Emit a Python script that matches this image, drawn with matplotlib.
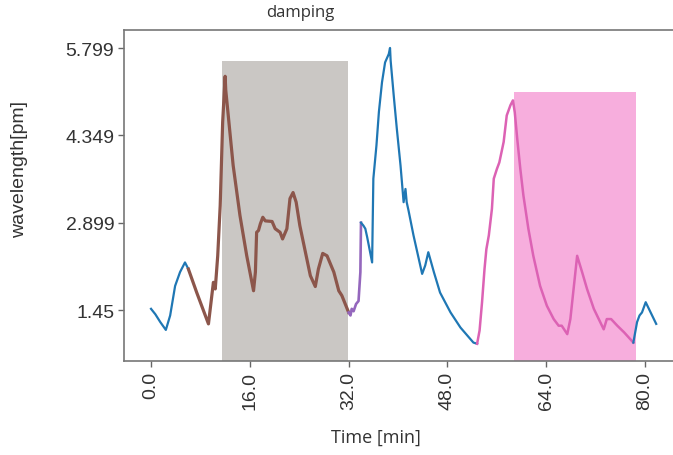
import numpy as np
import matplotlib.pyplot as plt
from matplotlib.patches import Rectangle

# line segments, time [min] and wavelength [pm] -----------------------------------
t_blue1 = [0.0, 0.7, 1.5, 2.4, 3.1, 3.9, 4.7, 5.5, 6.05]
v_blue1 = [1.47, 1.38, 1.25, 1.12, 1.36, 1.85, 2.08, 2.24, 2.13]

t_brown = [6.05, 7.4, 9.3, 10.1, 10.4, 10.8, 11.2, 11.6, 12.0, 12.1, 12.4, 13.3, 14.4,
           15.5, 16.6, 16.9, 17.1, 17.4, 17.7, 18.1, 18.5, 19.6, 20.1, 20.9, 21.3,
           22.0, 22.5, 23.0, 23.5, 24.1, 25.0, 25.8, 26.6, 27.1, 27.8, 28.5, 29.6,
           30.4, 30.9, 32.0]
v_brown = [2.13, 1.74, 1.22, 1.91, 1.80, 2.35, 3.18, 4.57, 5.33, 5.10, 4.79, 3.85, 3.02,
           2.35, 1.77, 2.08, 2.74, 2.77, 2.88, 2.99, 2.93, 2.92, 2.80, 2.74, 2.63,
           2.80, 3.30, 3.40, 3.24, 2.85, 2.41, 2.02, 1.84, 2.13, 2.39, 2.35, 2.08,
           1.77, 1.69, 1.41]

t_purple = [32.0, 32.3, 32.5, 32.8, 33.2, 33.6, 33.9, 34.0]
v_purple = [1.41, 1.36, 1.47, 1.43, 1.55, 1.60, 2.08, 2.90]

t_blue2 = [34.0, 34.4, 34.7, 35.0, 35.8, 36.0, 36.5, 36.9, 37.4, 37.9, 38.5, 38.7,
           38.8, 39.3, 39.8, 40.4, 40.9, 41.2, 41.4, 41.7, 42.5, 43.9, 44.4, 44.9,
           45.8, 46.8, 48.5, 50.1, 52.2, 52.8]
v_blue2 = [2.90, 2.85, 2.80, 2.66, 2.24, 3.63, 4.18, 4.74, 5.23, 5.56, 5.70, 5.80,
           5.59, 5.01, 4.46, 3.85, 3.24, 3.46, 3.24, 3.10, 2.69, 2.05, 2.19, 2.41,
           2.08, 1.74, 1.41, 1.16, 0.91, 0.89]

t_pink = [52.8, 53.2, 53.6, 54.0, 54.3, 54.7, 55.2, 55.5, 56.0, 56.4, 57.1, 57.6, 58.2,
          58.6, 58.9, 59.3, 59.8, 60.3, 61.1, 61.9, 63.0, 64.1, 65.2, 66.0, 66.5,
          67.4, 67.9, 69.0, 69.8, 70.6, 71.7, 73.3, 73.8, 74.5, 75.5, 76.6, 78.1]
v_pink = [0.89, 1.11, 1.58, 2.13, 2.46, 2.69, 3.13, 3.63, 3.79, 3.90, 4.24, 4.68, 4.85,
          4.93, 4.73, 4.29, 3.79, 3.35, 2.80, 2.35, 1.85, 1.52, 1.30, 1.19, 1.19,
          1.05, 1.30, 2.35, 2.08, 1.80, 1.47, 1.13, 1.30, 1.30, 1.19, 1.08, 0.91]

t_blue3 = [78.1, 78.7, 79.1, 79.5, 80.1, 80.9, 81.8]
v_blue3 = [0.91, 1.25, 1.36, 1.41, 1.58, 1.41, 1.22]

# shaded intervals: (start, end, top)
gray_span = (11.5, 31.9, 5.59)
pink_span = (58.8, 78.6, 5.07)

xticks = [0, 16, 32, 48, 64, 80]
xtick_labels = ["0.0", "16.0", "32.0", "48.0", "64.0", "80.0"]
yticks = [1.45, 2.899, 4.349, 5.799]
ytick_labels = ["1.45", "2.899", "4.349", "5.799"]

# Plotting ----------------------------------------------------------------
fig = plt.figure(figsize=(6.73, 4.56), dpi=100)
ax = fig.add_axes([0.1843, 0.206, 1.02 - 0.1843, 0.726])
ax.set_xlim(-4.37, 86.7)
ax.set_ylim(0.603, 6.098)

ymin = ax.get_ylim()[0]
ax.add_patch(Rectangle((gray_span[0], ymin), gray_span[1] - gray_span[0], gray_span[2] - ymin,
                       color='#cac7c4', lw=0, zorder=1))
ax.add_patch(Rectangle((pink_span[0], ymin), pink_span[1] - pink_span[0], pink_span[2] - ymin,
                       color='#f7aedd', lw=0, zorder=1))

lw = 1.6
ax.plot(t_blue1, v_blue1, color='#1f77b4', lw=lw, zorder=3)
ax.plot(t_brown, v_brown, color='#8c564b', lw=lw + 0.7, zorder=3)
ax.plot(t_purple, v_purple, color='#9467bd', lw=lw + 0.3, zorder=3)
ax.plot(t_blue2, v_blue2, color='#1f77b4', lw=lw, zorder=3)
ax.plot(t_pink, v_pink, color='#dc62b4', lw=lw + 0.2, zorder=3)
ax.plot(t_blue3, v_blue3, color='#1f77b4', lw=lw, zorder=3)

ax.set_xticks(xticks)
ax.set_xticklabels(xtick_labels, rotation=90, fontsize=14, family='Liberation Sans', color='#333333')
ax.set_yticks(yticks)
ax.set_yticklabels(ytick_labels, fontsize=14, family='Liberation Sans', color='#333333')
ax.tick_params(length=4, width=1, color='#666666', pad=3)
for side in ['left', 'bottom', 'top', 'right']:
	ax.spines[side].set_color('#777777')
	ax.spines[side].set_linewidth(1.2)

fig.text(300 / 673, 1 - 13 / 456, "damping", ha='center', va='center', fontsize=12,
         family='Open Sans', color='#333333')
fig.text(376 / 673, 1 - 438 / 456, "Time [min]", ha='center', va='center', fontsize=13,
         family='Open Sans', color='#333333')
fig.text(20 / 673, 1 - 170 / 456, "wavelength[pm]", ha='center', va='center', rotation=90,
         fontsize=14, family='Liberation Sans', color='#333333')

fig.savefig('out.png', dpi=100)
